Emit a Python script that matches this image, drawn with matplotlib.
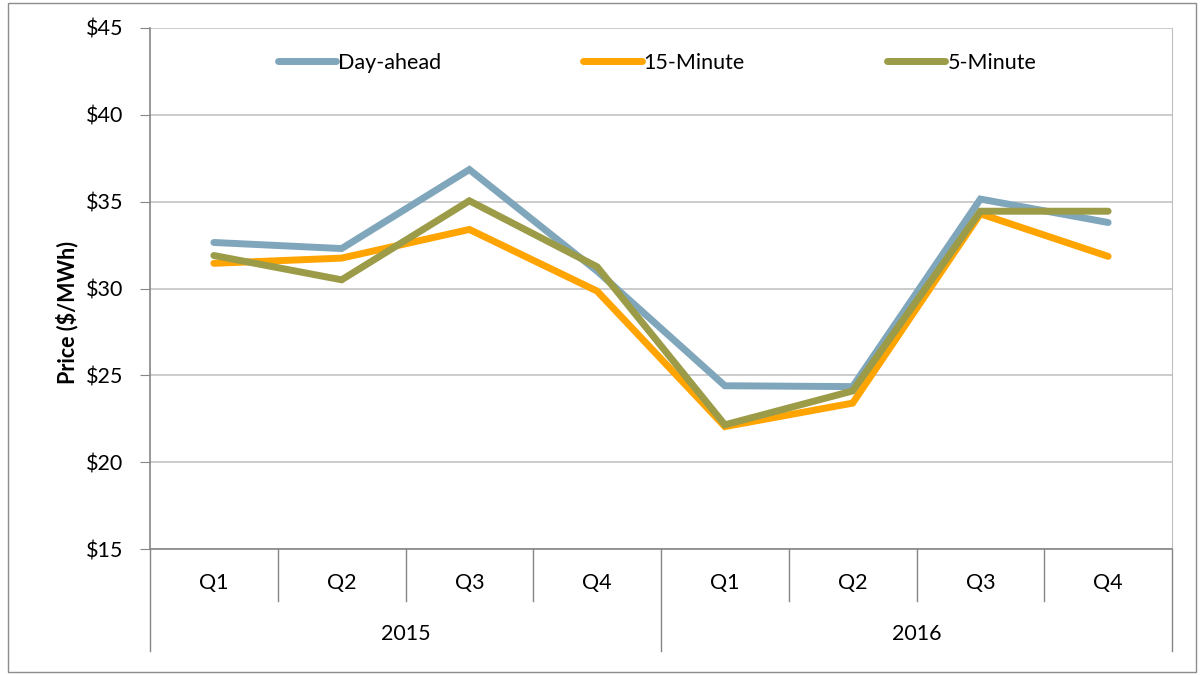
import matplotlib.pyplot as plt
import matplotlib.transforms as mtransforms
from matplotlib.patches import Rectangle

plt.rcParams['font.family'] = ['Lato', 'DejaVu Sans']

# data
quarters = ["Q1", "Q2", "Q3", "Q4", "Q1", "Q2", "Q3", "Q4"]
years = ["2015", "2016"]
day_ahead = [32.65, 32.3, 36.85, 31.0, 24.4, 24.35, 35.15, 33.8]
fifteen_min = [31.45, 31.75, 33.4, 29.85, 22.05, 23.4, 34.3, 31.85]
five_min = [31.9, 30.5, 35.05, 31.25, 22.15, 24.1, 34.45, 34.45]

FS = 15.5
W, H = 1200, 675
fig = plt.figure(figsize=(12, 6.75), dpi=100)
fig.patches.append(Rectangle((8 / W, 3 / H), (1196 - 8) / W, (672 - 3) / H,
                             transform=fig.transFigure, fill=False,
                             edgecolor="#8c8c8c", linewidth=1))

left, right, top, bottom = 150, 1172, 28, 549
ax = fig.add_axes([left / W, 1 - bottom / H, (right - left) / W, (bottom - top) / H])

x = list(range(len(quarters)))
kw = dict(linewidth=5, solid_capstyle="round", solid_joinstyle="miter")
ax.plot(x, day_ahead, color="#80A6BC", label="Day-ahead", **kw)
ax.plot(x, fifteen_min, color="#FFA400", label="15-Minute", **kw)
ax.plot(x, five_min, color="#9B9B48", label="5-Minute", **kw)

ax.set_xlim(-0.5, 7.5)
ax.set_ylim(15, 45)
ax.set_yticks(range(15, 50, 5))
ax.set_yticklabels([f"${v}" for v in range(15, 50, 5)], fontsize=FS)
ax.set_xticks([])
ax.grid(axis="y", color="#BFBFBF", linewidth=1.1)
ax.set_axisbelow(True)
ax.spines["top"].set_visible(False)
ax.spines["right"].set_color("#BFBFBF")
ax.spines["left"].set_color("#868686")
ax.spines["bottom"].set_color("#868686")
ax.spines["left"].set_linewidth(1.2)
ax.spines["bottom"].set_linewidth(1.2)
ax.tick_params(axis="y", direction="out", length=7, color="#868686", pad=12)

# two-level category axis
tr = mtransforms.blended_transform_factory(ax.transData, ax.transAxes)
ah = bottom - top
def yax(py):
    return (bottom - py) / ah

for i in range(1, len(quarters)):
    if i == 4:
        continue
    ax.plot([i - 0.5, i - 0.5], [0, yax(601)], transform=tr, color="#868686",
            linewidth=1, clip_on=False)
for xv in [-0.5, 3.5, 7.5]:
    ax.plot([xv, xv], [0, yax(651)], transform=tr, color="#868686",
            linewidth=1, clip_on=False)
for i, q in enumerate(quarters):
    ax.text(i, yax(583), q, transform=tr, ha="center", va="center", fontsize=FS)
for j, yr in enumerate(years):
    ax.text(1.5 + 4 * j, yax(634), yr, transform=tr, ha="center", va="center", fontsize=FS)

fig.text(67 / W, 1 - 312 / H, "Price ($/MWh)", rotation=90, ha="center", va="center",
         fontsize=FS, fontweight="bold")

ax.legend(loc="upper left", bbox_to_anchor=((278 - left) / (right - left), 0.952), ncol=3,
          frameon=False, fontsize=FS, handlelength=2.7, columnspacing=6.6,
          handletextpad=0.1, borderpad=0, borderaxespad=0)

fig.savefig("out.png", dpi=100)
